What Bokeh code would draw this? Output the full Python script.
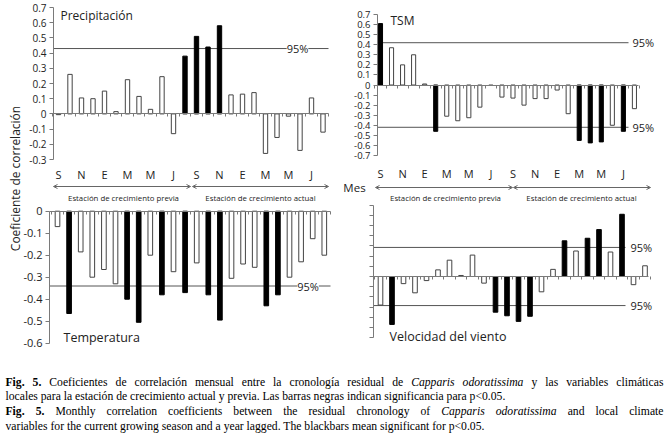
import os
import glob
from math import pi
from bokeh.plotting import figure
from bokeh.models import (Range1d, LinearAxis, FixedTicker, CustomJSTickFormatter, Label,
                          Arrow, OpenHead, ColumnDataSource)
from bokeh.core.properties import value
from bokeh.embed import file_html
from bokeh.resources import INLINE

# ---------------- data ----------------
month_ticks = [0, 2, 4, 6, 8, 10, 12, 14, 16, 18, 20, 22]
month_labels = ["S", "N", "E", "M", "M", "J", "S", "N", "E", "M", "M", "J"]
n_months = 24

precip = [-0.005, 0.26, 0.105, 0.10, 0.15, 0.015, 0.225, 0.115, 0.03, 0.245, -0.13, 0.38,
          0.51, 0.44, 0.58, 0.125, 0.13, 0.14, -0.26, -0.155, -0.015, -0.24, 0.105, -0.12]
precip_sig = [0, 0, 0, 0, 0, 0, 0, 0, 0, 0, 0, 1, 1, 1, 1, 0, 0, 0, 0, 0, 0, 0, 0, 0]
precip_95 = 0.43
precip_yticks = [-0.3, -0.2, -0.1, 0.0, 0.1, 0.2, 0.3, 0.4, 0.5, 0.6, 0.7]

tsm = [0.61, 0.37, 0.20, 0.30, 0.01, -0.46, -0.31, -0.355, -0.325, -0.22, -0.005, -0.12,
       -0.13, -0.20, -0.135, -0.135, -0.05, -0.285, -0.55, -0.575, -0.565, -0.40, -0.46, -0.235]
tsm_sig = [1, 0, 0, 0, 0, 1, 0, 0, 0, 0, 0, 0, 0, 0, 0, 0, 0, 0, 1, 1, 1, 0, 1, 0]
tsm_95 = 0.42
tsm_yticks = [-0.7, -0.6, -0.5, -0.4, -0.3, -0.2, -0.1, 0.0, 0.1, 0.2, 0.3, 0.4, 0.5, 0.6, 0.7]

temp = [-0.07, -0.465, -0.185, -0.30, -0.265, -0.33, -0.40, -0.505, -0.20, -0.38, -0.275, -0.37,
        -0.235, -0.38, -0.495, -0.305, -0.24, -0.255, -0.43, -0.38, -0.30, -0.23, -0.125, -0.20]
temp_sig = [0, 1, 0, 0, 0, 0, 1, 1, 0, 1, 0, 1, 0, 1, 1, 0, 0, 0, 1, 1, 0, 0, 0, 0]
temp_95 = -0.34
temp_yticks = [-0.6, -0.5, -0.4, -0.3, -0.2, -0.1, 0.0]

wind = [-0.28, -0.47, -0.07, -0.16, -0.04, 0.065, 0.16, 0.01, 0.21, -0.065, -0.35, -0.385,
        -0.44, -0.39, -0.15, 0.07, 0.35, 0.25, 0.375, 0.46, 0.24, 0.61, -0.08, 0.105]
wind_sig = [0, 1, 0, 0, 0, 0, 0, 0, 0, 0, 1, 1, 1, 1, 0, 0, 1, 0, 1, 1, 0, 1, 0, 0]
wind_95 = 0.285
wind_yticks = [-0.6, -0.5, -0.4, -0.3, -0.2, -0.1, 0.0, 0.1, 0.2, 0.3, 0.4, 0.5, 0.6, 0.7]

season_labels = ["Estación de crecimiento previa", "Estación de crecimiento actual"]

# ---------------- style / layout ----------------
W, H = 667, 439
FONT = "Open Sans"
AX = "#7a7a7a"
LINE95 = "#555555"
BARLINE = "#444444"
TXT = "#222222"

p = figure(width=W, height=H, x_range=Range1d(0, W), y_range=Range1d(H, 0),
           output_backend="svg", toolbar_location=None,
           x_axis_location=None, y_axis_location=None, min_border=0)
p.grid.grid_line_color = None
p.outline_line_color = None
p.background_fill_color = "white"
p.border_fill_color = "white"

# panel geometry in page pixels: first bar centre, bar spacing, zero line, px per unit,
# y-axis x position, right end of zero axis
geo = {
    "pr": dict(b0=58.0, s=11.5, z=113.4, k=152.0, ax=53, end=328),
    "ts": dict(b0=380.0, s=11.04, z=84.5, k=100.7, ax=377, end=638),
    "te": dict(b0=57.0, s=11.6, z=210.7, k=220.0, ax=49, end=330),
    "wi": dict(b0=380.0, s=11.5, z=276.0, k=102.0, ax=373, end=648),
}
xr, yr = {}, {}
for nm, g in geo.items():
    xr[nm + "x"] = Range1d(-g["b0"] / g["s"], (W - g["b0"]) / g["s"])
    yr[nm + "y"] = Range1d((g["z"] - H) / g["k"], g["z"] / g["k"])
p.extra_x_ranges = xr
p.extra_y_ranges = yr


def px2x(nm, px):
    g = geo[nm]
    return (px - g["b0"]) / g["s"]


def add_yaxis(nm, ticks, bounds, labels=True, font_size="10px"):
    fmt = ("return Math.abs(tick) < 1e-9 ? '0' : tick.toFixed(1);" if labels else "return '';")
    ax = LinearAxis(x_range_name="default", y_range_name=nm + "y", fixed_location=geo[nm]["ax"],
                    ticker=FixedTicker(ticks=ticks), formatter=CustomJSTickFormatter(code=fmt),
                    axis_line_color=AX, major_tick_line_color=AX, major_tick_out=4, major_tick_in=0,
                    minor_tick_line_color=None, major_label_text_font=FONT,
                    major_label_text_font_size=font_size, major_label_text_color=TXT,
                    major_label_standoff=3, bounds=bounds)
    p.add_layout(ax, "left")


def add_zero_axis(nm):
    g = geo[nm]
    ax = LinearAxis(x_range_name=nm + "x", y_range_name=nm + "y", fixed_location=0,
                    ticker=FixedTicker(ticks=[i + 0.5 for i in range(-1, n_months)]),
                    formatter=CustomJSTickFormatter(code="return '';"),
                    axis_line_color=AX, major_tick_line_color=AX, major_tick_in=0, major_tick_out=3,
                    minor_tick_line_color=None, major_label_standoff=0,
                    major_label_text_font_size="0px",
                    bounds=(px2x(nm, g["ax"]), px2x(nm, g["end"])))
    p.add_layout(ax, "below")


def add_month_axis(nm, ypx, standoff):
    ax = LinearAxis(x_range_name=nm + "x", y_range_name="default", fixed_location=ypx,
                    ticker=FixedTicker(ticks=month_ticks),
                    major_label_overrides={t: l for t, l in zip(month_ticks, month_labels)},
                    axis_line_color=None, major_tick_line_color=None, minor_tick_line_color=None,
                    major_label_standoff=standoff, major_label_text_font=FONT,
                    major_label_text_font_size="11px", major_label_text_color=TXT)
    p.add_layout(ax, "below")


def add_bars(nm, vals, sig, w):
    src = ColumnDataSource(dict(x=list(range(len(vals))), top=vals,
                                fill=["black" if s_ else "white" for s_ in sig],
                                line=["black" if s_ else BARLINE for s_ in sig]))
    p.vbar(x="x", top="top", bottom=0, width=w, fill_color="fill", line_color="line",
           line_width=1, source=src, x_range_name=nm + "x", y_range_name=nm + "y")


def add_line95(nm, lv, x1px):
    p.segment(x0=[geo[nm]["ax"]], y0=[lv], x1=[x1px], y1=[lv], line_color=LINE95, line_width=1,
              y_range_name=nm + "y")


def add_label(x, y, text, size="12px", align="left", bg=None, y_range_name="default"):
    p.add_layout(Label(x=x, y=y, text=text, text_font=FONT, text_font_size=size,
                       text_color=TXT, text_align=align, text_baseline="middle",
                       background_fill_color=bg, y_range_name=y_range_name))


def add_seasons(edges, y_arrow, y_text, centres):
    for k in range(2):
        x0, x1 = edges[k]
        p.add_layout(Arrow(x_start=x0, y_start=y_arrow, x_end=x1, y_end=y_arrow,
                           start=OpenHead(size=4, line_color="#666666", line_width=1),
                           end=OpenHead(size=4, line_color="#666666", line_width=1),
                           line_color="#666666", line_width=1))
        add_label(centres[k], y_text, season_labels[k], size="7.8px", align="center")


# ---------------- panel: precipitation ----------------
add_line95("pr", precip_95, 328)
add_bars("pr", precip, precip_sig, 0.38)
add_yaxis("pr", precip_yticks, (-0.3, 0.7))
add_zero_axis("pr")
add_month_axis("pr", 153, 7)
add_label(60, 15, "Precipitación")
add_label(297, precip_95, "95%", size="11px", align="center", bg="white", y_range_name="pry")

# ---------------- panel: TSM ----------------
for lv in (tsm_95, -tsm_95):
    add_line95("ts", lv, 628)
    add_label(632, lv, "95%", size="11px", y_range_name="tsy")
add_bars("ts", tsm, tsm_sig, 0.37)
add_yaxis("ts", tsm_yticks, (-0.7, 0.7), font_size="9.5px")
add_zero_axis("ts")
add_month_axis("ts", 152, 7)
add_label(390, 20, "TSM")

# ---------------- panel: temperature ----------------
add_line95("te", temp_95, 330)
add_bars("te", temp, temp_sig, 0.4)
add_yaxis("te", temp_yticks, (-0.6, 0.0), font_size="11px")
add_zero_axis("te")
add_seasons([(53, 190), (192, 328)], 186, 197, (123, 260))
add_label(63, 337, "Temperatura", size="12.5px")
add_label(307.5, temp_95, "95%", size="11px", align="center", bg="white", y_range_name="tey")

# ---------------- panel: wind ----------------
for lv in (wind_95, -wind_95):
    add_line95("wi", lv, 625)
    add_label(630, lv, "95%", size="11px", y_range_name="wiy")
add_bars("wi", wind, wind_sig, 0.4)
add_yaxis("wi", wind_yticks, (-0.6, 0.7), labels=False)
add_zero_axis("wi")
add_seasons([(375, 512), (513, 650)], 187, 197, (445, 581))
add_label(354, 187, "Mes", size="11.5px", align="center")
add_label(389, 336, "Velocidad del viento", size="12.5px")

# ---------------- vertical axis title ----------------
p.add_layout(Label(x=15, y=178, text="Coeficiente de correlación", angle=pi / 2,
                   text_font=FONT, text_font_size="12px", text_color=TXT,
                   text_align="center", text_baseline="middle"))

# ---------------- caption ----------------
SERIF = "Liberation Serif"
font_files = {"normal": "LiberationSerif-Regular.ttf", "bold": "LiberationSerif-Bold.ttf",
              "italic": "LiberationSerif-Italic.ttf"}
approx = {"normal": 0.44, "bold": 0.48, "italic": 0.42}
_font_cache = {}


def find_font(name):
    for d in ["/usr/share/fonts", "/usr/local/share/fonts", os.path.expanduser("~/.fonts"),
              os.path.expanduser("~/.local/share/fonts")]:
        hits = glob.glob(os.path.join(d, "**", name), recursive=True)
        if hits:
            return hits[0]
    return None


def measure(txt, size, style):
    try:
        if style not in _font_cache:
            from PIL import ImageFont
            path = find_font(font_files[style])
            _font_cache[style] = ImageFont.truetype(path, 200) if path else None
        f = _font_cache[style]
        if f is not None:
            return f.getlength(txt) * size / 200.0
    except Exception:
        pass
    return len(txt) * size * approx[style]


caption_lines = [
    [("Fig. 5.", "bold"), ("Coeficientes de correlación mensual entre la cronología residual de", "normal"),
     ("Capparis odoratissima", "italic"), ("y las variables climáticas", "normal")],
    [("locales para la estación de crecimiento actual y previa. Las barras negras indican significancia para p<0.05.", "normal")],
    [("Fig. 5.", "bold"), ("Monthly correlation coefficients between the residual chronology of", "normal"),
     ("Capparis odoratissima", "italic"), ("and local climate", "normal")],
    [("variables for the current growing season and a year lagged. The blackbars mean significant for p<0.05.", "normal")],
]
caption_justify = [True, False, True, False]
cap_y = [381.7, 396.3, 410.7, 426.0]
CAP_X0, CAP_X1 = 5.0, 663.0

w1 = measure(caption_lines[1][0][0], 1.0, "normal")
cap_size = min(12.5, max(9.5, 500.0 / w1)) if w1 > 0 else 10.5
space = measure(" ", cap_size, "normal")

seg = {"normal": dict(x=[], y=[], t=[]), "bold": dict(x=[], y=[], t=[]), "italic": dict(x=[], y=[], t=[])}
for line, yy, just in zip(caption_lines, cap_y, caption_justify):
    if just:
        words = [(w_, st) for txt, st in line for w_ in txt.split(" ")]
        widths = [measure(w_, cap_size, st) for w_, st in words]
        gap = (CAP_X1 - CAP_X0 - sum(widths)) / (len(words) - 1)
        xx = CAP_X0
        for (w_, st), ww in zip(words, widths):
            seg[st]["x"].append(xx)
            seg[st]["y"].append(yy)
            seg[st]["t"].append(w_)
            xx += ww + gap
    else:
        xx = CAP_X0
        for txt, st in line:
            seg[st]["x"].append(xx)
            seg[st]["y"].append(yy)
            seg[st]["t"].append(txt)
            xx += measure(txt, cap_size, st) + space

for st, d in seg.items():
    p.text(x=d["x"], y=d["y"], text=d["t"], text_font=value(SERIF),
           text_font_size=value(f"{cap_size:.2f}px"),
           text_font_style=value(st), text_color="black",
           text_align=value("left"), text_baseline=value("middle"))

open("out.html", "w").write(file_html(p, INLINE))
